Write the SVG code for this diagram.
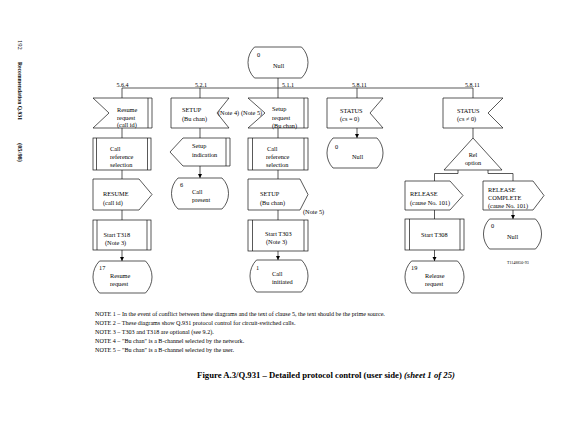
<svg xmlns="http://www.w3.org/2000/svg" width="580" height="425" viewBox="0 0 580 425">
<style>
.s{fill:#fff;stroke:#111;stroke-width:0.7}
.l{fill:none;stroke:#111;stroke-width:0.7}
.t{font-family:"Liberation Serif","Times New Roman",serif;font-size:6.3px;fill:#000}
.lab{font-family:"Liberation Serif","Times New Roman",serif;font-size:6px;fill:#000}
.n{font-family:"Liberation Serif","Times New Roman",serif;font-size:6.1px;fill:#000}
.h{font-family:"Liberation Serif","Times New Roman",serif;font-size:6.5px;fill:#000}
.cap{font-family:"Liberation Serif","Times New Roman",serif;font-size:8.7px;font-weight:bold;fill:#000}
</style>
<defs>
<marker id="arr" viewBox="0 0 8 8" refX="8" refY="4" markerWidth="4.5" markerHeight="4.5" markerUnits="userSpaceOnUse" orient="auto">
<path d="M0,0 L8,4 L0,8 Z" fill="#000"/>
</marker>
</defs>
<rect width="580" height="425" fill="#fff"/>

<g id="header">
<text class="h" transform="translate(17.5,40) rotate(90)">192</text>
<text class="h" font-weight="bold" transform="translate(17.5,62) rotate(90)" textLength="58" lengthAdjust="spacingAndGlyphs">Recommendation Q.931</text>
<text class="h" font-weight="bold" transform="translate(17.5,143) rotate(90)" textLength="19" lengthAdjust="spacingAndGlyphs">(05/98)</text>
</g>

<g id="connectors">
<path class="l" d="M278,78 V98"/>
<path class="l" d="M122,88 H473"/>
<path class="l" d="M122,88 V98 M200,88 V98 M357,88 V98 M473,88 V98"/>
<path class="l" d="M122,128 V138 M122,170 V179 M122,210 V220"/>
<path class="l" d="M122,250 V261" marker-end="url(#arr)"/>
<path class="l" d="M200,128 V138"/>
<path class="l" d="M200,166 V178" marker-end="url(#arr)"/>
<path class="l" d="M278,128 V138 M278,170 V179 M278,210 V220"/>
<path class="l" d="M278,251 V260" marker-end="url(#arr)"/>
<path class="l" d="M357,128 V138" marker-end="url(#arr)"/>
<path class="l" d="M473,128 V138"/>
<path class="l" d="M458,170 V173.5 H434.5 V181 M488,170 V173.5 H513 V181"/>
<path class="l" d="M434.5,210 V219"/>
<path class="l" d="M434.5,250 V261" marker-end="url(#arr)"/>
<path class="l" d="M513,210 V219" marker-end="url(#arr)"/>
<text class="lab" x="116.5" y="86.5">5.6.4</text>
<text class="lab" x="195" y="86.5">5.2.1</text>
<text class="lab" x="282" y="86.5">5.1.1</text>
<text class="lab" x="352" y="86.5">5.8.11</text>
<text class="lab" x="465" y="86.5">5.8.11</text>
</g>

<g id="null-top">
<path class="s" d="M254.5,47 H301.5 A21.7 21.7 0 0 1 301.5,78 H254.5 A21.7 21.7 0 0 1 254.5,47 Z"/>
<text class="t" x="257" y="57">0</text>
<text class="t" x="273" y="68">Null</text>
</g>

<g id="resume-request">
<path class="s" d="M93,98 H152 V128 H93 L109,113 Z"/>
<path class="l" d="M148,98 V128"/>
<text class="t" x="117" y="112">Resume</text>
<text class="t" x="117" y="119.5">request</text>
<text class="t" x="117" y="127">(call id)</text>
</g>

<g id="call-ref-1">
<rect class="s" x="93" y="138" width="58" height="32"/>
<path class="l" d="M96.5,138 V170 M147.5,138 V170"/>
<text class="t" x="110" y="151">Call</text>
<text class="t" x="110" y="159">reference</text>
<text class="t" x="110" y="167">selection</text>
</g>

<g id="resume-out">
<path class="s" d="M93,179 H139 L152,194.5 L139,210 H93 Z"/>
<text class="t" x="103" y="196">RESUME</text>
<text class="t" x="103" y="204.5">(call id)</text>
</g>

<g id="start-t318">
<rect class="s" x="93" y="220" width="58" height="30"/>
<path class="l" d="M97,220 V250 M147,220 V250"/>
<text class="t" x="103.5" y="236.5">Start T318</text>
<text class="t" x="105" y="244.5">(Note 3)</text>
</g>

<g id="state-17">
<path class="s" d="M99.5,261 H145.5 A22.9 22.9 0 0 1 145.5,293 H99.5 A22.9 22.9 0 0 1 99.5,261 Z"/>
<text class="t" x="99" y="270">17</text>
<text class="t" x="110" y="277.5">Resume</text>
<text class="t" x="110" y="285.5">request</text>
</g>

<g id="setup-in">
<path class="s" d="M171,98 H229 L217,113 L229,128 H171 Z"/>
<text class="t" x="182" y="112">SETUP</text>
<text class="t" x="182" y="120.5">(Bu chan)</text>
<text class="t" x="218" y="115">(Note 4)</text>
</g>

<g id="setup-indication">
<path class="s" d="M183,138 H230 V166 H183 L170,152 Z"/>
<path class="l" d="M226,138 V166"/>
<text class="t" x="192" y="148">Setup</text>
<text class="t" x="192" y="157">indication</text>
</g>

<g id="state-6">
<path class="s" d="M178,178 H222 A21.7 21.7 0 0 1 222,209 H178 A21.7 21.7 0 0 1 178,178 Z"/>
<text class="t" x="180" y="187">6</text>
<text class="t" x="192" y="194">Call</text>
<text class="t" x="192" y="202">present</text>
</g>

<g id="setup-request">
<path class="s" d="M248,98 H308 V128 H248 L265,113 Z"/>
<path class="l" d="M304,98 V128"/>
<text class="t" x="241" y="115">(Note 5)</text>
<text class="t" x="272" y="111">Setup</text>
<text class="t" x="272" y="119.5">request</text>
<text class="t" x="272" y="127.5">(Bu chan)</text>
</g>

<g id="call-ref-3">
<rect class="s" x="248" y="138" width="60" height="32"/>
<path class="l" d="M252.5,138 V170 M304,138 V170"/>
<text class="t" x="267" y="151">Call</text>
<text class="t" x="266" y="159">reference</text>
<text class="t" x="266" y="167">selection</text>
</g>

<g id="setup-out">
<path class="s" d="M248,179 H300 L308,194.5 L300,210 H248 Z"/>
<text class="t" x="260" y="196">SETUP</text>
<text class="t" x="260" y="204.5">(Bu chan)</text>
<text class="t" x="303" y="214">(Note 5)</text>
</g>

<g id="start-t303">
<rect class="s" x="248" y="220" width="60" height="31"/>
<path class="l" d="M252.5,220 V251 M304,220 V251"/>
<text class="t" x="265" y="235.5">Start T303</text>
<text class="t" x="266" y="244">(Note 3)</text>
</g>

<g id="state-1">
<path class="s" d="M256.5,260 H301.5 A22.9 22.9 0 0 1 301.5,292 H256.5 A22.9 22.9 0 0 1 256.5,260 Z"/>
<text class="t" x="256" y="269.5">1</text>
<text class="t" x="272" y="275.5">Call</text>
<text class="t" x="272" y="283.5">initiated</text>
</g>

<g id="status-0">
<path class="s" d="M327,98 H383 L370,113 L383,128 H327 Z"/>
<text class="t" x="340" y="113">STATUS</text>
<text class="t" x="340" y="121">(cs = 0)</text>
</g>

<g id="null-4">
<path class="s" d="M333,138 H377 A21.7 21.7 0 0 1 377,168 H333 A21.7 21.7 0 0 1 333,138 Z"/>
<text class="t" x="335" y="149">0</text>
<text class="t" x="352" y="159">Null</text>
</g>

<g id="status-n0">
<path class="s" d="M443,98 H503 L488,113 L503,128 H443 Z"/>
<text class="t" x="457" y="113">STATUS</text>
<text class="t" x="457" y="121">(cs ≠ 0)</text>
</g>

<g id="rel-option">
<path class="s" d="M473,138 L502,170 H444 Z"/>
<text class="t" x="473" y="157" text-anchor="middle">Rel</text>
<text class="t" x="473" y="165" text-anchor="middle">option</text>
</g>

<g id="release-out">
<path class="s" d="M405,181 H450 L463,195.5 L450,210 H405 Z"/>
<text class="t" x="410" y="196">RELEASE</text>
<text class="t" x="410" y="204.5">(cause No. 101)</text>
</g>

<g id="start-t308">
<rect class="s" x="405" y="219" width="59" height="31"/>
<path class="l" d="M409.5,219 V250 M460,219 V250"/>
<text class="t" x="421" y="236.5">Start T308</text>
</g>

<g id="state-19">
<path class="s" d="M411.5,261 H457.5 A22.9 22.9 0 0 1 457.5,293 H411.5 A22.9 22.9 0 0 1 411.5,261 Z"/>
<text class="t" x="411" y="270">19</text>
<text class="t" x="425" y="277.5">Release</text>
<text class="t" x="425" y="285.5">request</text>
</g>

<g id="release-complete-out">
<path class="s" d="M483,181 H533 L544,195.5 L533,210 H483 Z"/>
<text class="t" x="488" y="192">RELEASE</text>
<text class="t" x="488" y="199.5">COMPLETE</text>
<text class="t" x="488" y="207.5">(cause No. 101)</text>
</g>

<g id="null-5">
<path class="s" d="M489.5,219 H535.5 A21.7 21.7 0 0 1 535.5,249 H489.5 A21.7 21.7 0 0 1 489.5,219 Z"/>
<text class="t" x="491" y="228">0</text>
<text class="t" x="507" y="239">Null</text>
</g>

<text class="t" x="507" y="264" style="font-size:4px">T1148850-93</text>

<g id="notes">
<text class="n" x="95" y="316">NOTE 1 – In the event of conflict between these diagrams and the text of clause 5, the text should be the prime source.</text>
<text class="n" x="95" y="325">NOTE 2 – These diagrams show Q.931 protocol control for circuit-switched calls.</text>
<text class="n" x="95" y="334">NOTE 3 – T303 and T318 are optional (see 9.2).</text>
<text class="n" x="95" y="343">NOTE 4 – "Bu chan" is a B-channel selected by the network.</text>
<text class="n" x="95" y="352">NOTE 5 – "Bu chan" is a B-channel selected by the user.</text>
</g>

<text class="cap" x="326" y="378" text-anchor="middle">Figure  A.3/Q.931 – Detailed protocol control (user side) <tspan font-style="italic">(sheet 1 of 25)</tspan></text>
</svg>
